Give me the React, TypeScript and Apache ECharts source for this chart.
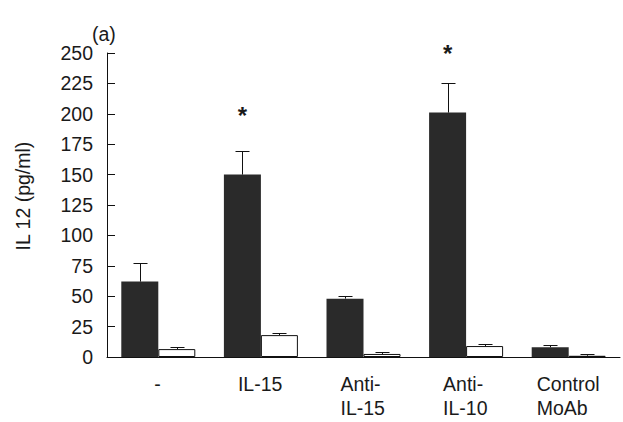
import React, { useEffect, useRef } from "react";
import * as echarts from "echarts";

const categories = ["-", "IL-15", "Anti-\nIL-15", "Anti-\nIL-10", "Control\nMoAb"];
const darkValues = [62, 150, 48, 201, 8];
const darkErrors = [15, 19, 2, 24, 2];
const whiteValues = [6.5, 18, 2.5, 9, 1];
const whiteErrors = [1.5, 1.5, 1.5, 1.5, 1.5];
const starValues: (number | null)[] = [null, 199, null, 250, null];
const yTicks = [0, 25, 50, 75, 100, 125, 150, 175, 200, 225, 250];
const yAxisTitle = "IL 12 (pg/ml)";
const panelLabel = "(a)";

const FONT = '"Liberation Sans", Arial, Helvetica, sans-serif';
const FS = 19.5;
const TEXT = "#1a1a1a";
const BAR_W = 37;

export default function App() {
  const ref = useRef<HTMLDivElement>(null);
  useEffect(() => {
    document.body.style.margin = "0";
    const chart = echarts.init(ref.current!, null, { renderer: "svg" });

    const canvas = document.createElement("canvas");
    const ctx = canvas.getContext("2d")!;
    ctx.font = `${FS}px ${FONT}`;
    const rich: Record<string, any> = {};
    categories.forEach((c, i) => {
      const w = Math.max(...c.split("\n").map((l) => ctx.measureText(l).width));
      rich["w" + i] = {
        width: Math.ceil(w) + 1,
        align: "left",
        fontSize: FS,
        fontFamily: FONT,
        color: TEXT,
        lineHeight: 24,
      };
    });

    const errRender = (offset: number) => (params: any, api: any) => {
      const x = api.value(0);
      const v = api.value(1);
      const e = api.value(2);
      const base = api.coord([x, v]);
      const top = api.coord([x, v + e]);
      const cx = Math.round(base[0] + offset) + 0.5;
      const yb = base[1];
      const yt = Math.round(top[1]) + 0.5;
      return {
        type: "group",
        children: [
          { type: "line", shape: { x1: cx, y1: yb, x2: cx, y2: yt }, style: { stroke: "#111", lineWidth: 1 } },
          { type: "line", shape: { x1: cx - 7, y1: yt, x2: cx + 7, y2: yt }, style: { stroke: "#111", lineWidth: 1 } },
        ],
      };
    };

    chart.setOption({
      animation: false,
      backgroundColor: "#ffffff",
      grid: { left: 107, right: 3, top: 53, bottom: 65, containLabel: false },
      graphic: [
        {
          type: "text",
          left: 92,
          top: 24,
          style: { text: panelLabel, font: `${FS}px ${FONT}`, fill: TEXT },
        },
      ],
      xAxis: {
        type: "category",
        data: categories,
        boundaryGap: true,
        axisLine: { lineStyle: { color: "#111", width: 1 } },
        axisTick: { inside: true, length: 8, lineStyle: { color: "#111" } },
        axisLabel: {
          margin: 15,
          interval: 0,
          formatter: (value: string, index: number) =>
            value.split("\n").map((l) => `{w${index}|${l}}`).join("\n"),
          rich,
        },
      },
      yAxis: {
        type: "value",
        min: 0,
        max: 250,
        interval: 25,
        name: yAxisTitle,
        nameLocation: "middle",
        nameGap: 74,
        nameTextStyle: { fontSize: FS, fontFamily: FONT, color: TEXT, padding: [0, 0, 0, 18] },
        axisLine: { show: true, lineStyle: { color: "#111", width: 1 } },
        axisTick: { show: true, inside: true, length: 8, lineStyle: { color: "#111" } },
        splitLine: { show: false },
        axisLabel: {
          margin: 14,
          fontSize: FS,
          fontFamily: FONT,
          color: TEXT,
          formatter: (v: number) => (yTicks.includes(v) ? String(v) : ""),
        },
      },
      series: [
        {
          type: "bar",
          data: darkValues,
          barWidth: BAR_W,
          barGap: "0%",
          itemStyle: { color: "#2a2a2a" },
          z: 2,
        },
        {
          type: "bar",
          data: whiteValues,
          barWidth: BAR_W,
          barGap: "0%",
          itemStyle: { color: "#ffffff", borderColor: "#111", borderWidth: 1 },
          z: 2,
        },
        {
          type: "custom",
          data: darkValues.map((v, i) => [i, v, darkErrors[i]]),
          renderItem: errRender(-BAR_W / 2),
          z: 3,
        },
        {
          type: "custom",
          data: whiteValues.map((v, i) => [i, v, whiteErrors[i]]),
          renderItem: errRender(BAR_W / 2),
          z: 3,
        },
        {
          type: "custom",
          clip: false,
          data: starValues.map((v, i) => [i, v]).filter((d) => d[1] != null),
          renderItem: (params: any, api: any) => {
            const p = api.coord([api.value(0), api.value(1)]);
            return {
              type: "text",
              x: p[0] - BAR_W / 2,
              y: p[1],
              style: {
                text: "*",
                font: `bold 24px ${FONT}`,
                fill: TEXT,
                align: "center",
                verticalAlign: "middle",
              },
            };
          },
          z: 4,
        },
      ],
    });
    return () => chart.dispose();
  }, []);
  return <div ref={ref} style={{ width: 623, height: 422, position: "fixed", left: 0, top: 0 }} />;
}
